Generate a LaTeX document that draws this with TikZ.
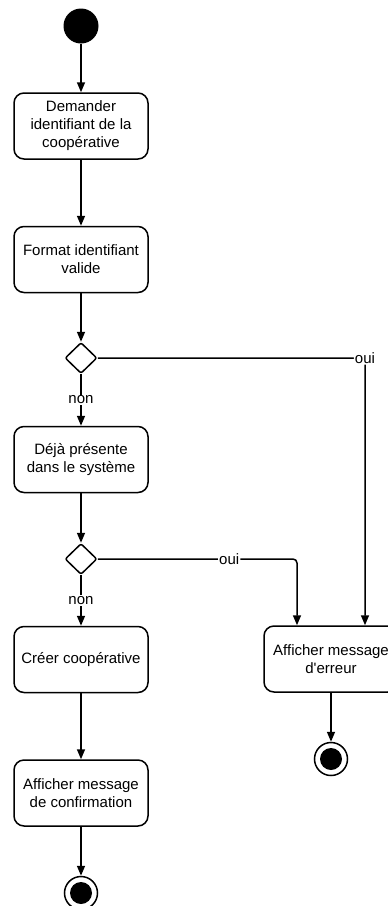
\documentclass[tikz,border=0pt]{standalone}
\usepackage{fontspec}
\setmainfont{Liberation Sans}
\usetikzlibrary{arrows.meta,shapes.geometric}

\begin{document}
\begin{tikzpicture}[x=1pt,y=-1pt,%%
  actionStyle/.style={draw,rounded corners=10pt,line width=1.5pt,minimum width=134pt,minimum height=66pt,align=center,inner sep=2pt,font=\fontsize{15pt}{18pt}\selectfont},%%
  decisionStyle/.style={draw,diamond,line width=1.5pt,minimum width=32pt,minimum height=31pt,inner sep=0pt,rounded corners=2pt},%%
  flowStyle/.style={-{Triangle[length=10pt,width=8pt]},line width=1.5pt},%%
  labelStyle/.style={fill=white,inner sep=1pt,font=\fontsize{15pt}{18pt}\selectfont},%%
  startStyle/.style={circle,fill=black,minimum size=35pt,inner sep=0pt},%%
  endStyle/.style={circle,draw,line width=1.5pt,minimum size=33pt,inner sep=0pt,path picture={\fill (path picture bounding box.center) circle (11pt);}}%%
]
%%
%% Page size of the picture.
\useasboundingbox (0,0) rectangle (388,906);
%%
\pgfmathsetmacro{\xmain}{81}  %% the main column
\pgfmathsetmacro{\xerr}{331}  %% the error column
\pgfmathsetmacro{\dxin}{34}   %% offset of the two arrows into the error box
%%
%% Main column.
\node[startStyle] (start) at (\xmain,26) {};
\node[actionStyle] (demander) at (\xmain,126) {Demander\\identifiant de la\\coopérative};
\node[actionStyle] (format) at (\xmain,259.5) {Format identifiant\\valide};
\node[decisionStyle] (formatOk) at (\xmain,358) {};
\node[actionStyle] (presente) at (\xmain,459.5) {Déjà présente\\dans le système};
\node[decisionStyle] (presenteOk) at (\xmain,559) {};
\node[actionStyle] (creer) at (\xmain,659.5) {Créer coopérative};
\node[actionStyle] (confirmation) at (\xmain,793) {Afficher message\\de confirmation};
\node[endStyle] (endMain) at (\xmain,893) {};
%%
%% Error column.
\node[actionStyle] (erreur) at (\xerr,659) {Afficher message\\d\textquotesingle erreur};
\node[endStyle] (endErr) at (\xerr,759) {};
\coordinate (erreurInLeft) at ([xshift=-\dxin pt]erreur.north);
\coordinate (erreurInRight) at ([xshift=\dxin pt]erreur.north);
%%
%% Flow of the main column.
\draw[flowStyle] (start) -- (demander);
\draw[flowStyle] (demander) -- (format);
\draw[flowStyle] (format) -- (formatOk);
\draw[flowStyle] (formatOk) -- node[labelStyle] {non} (presente);
\draw[flowStyle] (presente) -- (presenteOk);
\draw[flowStyle] (presenteOk) -- node[labelStyle] {non} (creer);
\draw[flowStyle] (creer) -- (confirmation);
\draw[flowStyle] (confirmation) -- (endMain);
%%
%% Branches to the error.
\draw[flowStyle,rounded corners=4pt] (formatOk.east) -| node[labelStyle,pos=0.5] {oui} (erreurInRight);
\draw[flowStyle,rounded corners=4pt] (presenteOk.east) -| node[labelStyle,pos=0.33] {oui} (erreurInLeft);
\draw[flowStyle] (erreur) -- (endErr);
\end{tikzpicture}
\end{document}
